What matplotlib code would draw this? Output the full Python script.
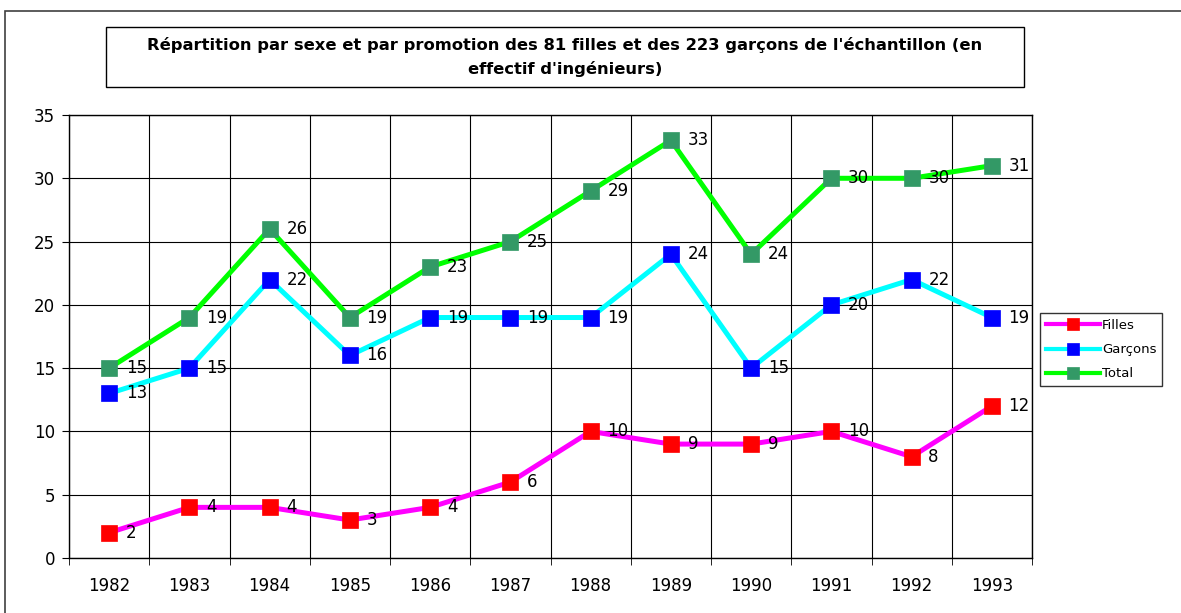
import numpy as np
import matplotlib.pyplot as plt
from matplotlib.patches import Rectangle

plt.rcParams['font.family'] = ['DejaVu Sans']

annees = ['1982', '1983', '1984', '1985', '1986', '1987',
          '1988', '1989', '1990', '1991', '1992', '1993']
filles = [2, 4, 4, 3, 4, 6, 10, 9, 9, 10, 8, 12]
garcons = [13, 15, 22, 16, 19, 19, 19, 24, 15, 20, 22, 19]
total = [15, 19, 26, 19, 23, 25, 29, 33, 24, 30, 30, 31]

W, H = 1181, 613
fig = plt.figure(figsize=(W / 100, H / 100), dpi=100)

# cadre extérieur
fig.patches.append(Rectangle((5 / W, -0.05), 1.1, 1 - 11 / H + 0.05,
                             transform=fig.transFigure, fill=False,
                             edgecolor='#404040', lw=1.2))

# boite du titre
fig.patches.append(Rectangle((106 / W, 1 - 87 / H), (1024 - 106) / W, 60 / H,
                             transform=fig.transFigure, fill=False,
                             edgecolor='black', lw=1))
fig.text((106 + 1024) / 2 / W, 1 - 57 / H,
         "Répartition par sexe et par promotion des 81 filles et des 223 garçons de l'échantillon (en\neffectif d'ingénieurs)",
         ha='center', va='center', fontsize=11.8, fontweight='bold',
         linespacing=1.65)

ax = fig.add_axes([69 / W, 1 - 558 / H, (1032 - 69) / W, (558 - 115) / H])
x = np.arange(len(annees))

series = [
    ('Filles', filles, '#ff00ff', '#ff0000'),
    ('Garçons', garcons, '#00ffff', '#0000ff'),
    ('Total', total, '#00ff00', '#339966'),
]
for nom, vals, lc, mc in series:
    ax.plot(x, vals, color=lc, lw=3.6, marker='s', ms=11,
            markerfacecolor=mc, markeredgecolor=mc, markeredgewidth=0.5,
            label=nom, zorder=3)
    for xi, v in zip(x, vals):
        ax.annotate(str(v), (xi, v), xytext=(12, 0), textcoords='offset points',
                    ha='left', va='center', fontsize=12, zorder=4)

ax.set_xlim(-0.5, len(annees) - 0.5)
ax.set_ylim(0, 35)
ax.set_yticks(range(0, 36, 5))
ax.set_xticks(x)
ax.set_xticklabels(annees)
ax.set_xticks(np.arange(-0.5, len(annees), 1), minor=True)
ax.tick_params(axis='x', which='major', length=0, labelsize=12, pad=14)
ax.tick_params(axis='x', which='minor', length=5, direction='out', color='black')
ax.tick_params(axis='y', length=5, direction='out', labelsize=12, pad=5)
ax.grid(True, which='minor', axis='x', color='black', lw=0.8)
ax.grid(True, which='major', axis='y', color='black', lw=0.8)
for s in ax.spines.values():
    s.set_color('black')
    s.set_linewidth(1)

leg = ax.legend(loc='upper left', bbox_to_anchor=(1040 / W, 1 - 313 / H),
                bbox_transform=fig.transFigure, fontsize=9.5, frameon=True,
                fancybox=False, edgecolor='black', handlelength=4.1,
                handletextpad=0.15, borderpad=0.45, labelspacing=0.85,
                borderaxespad=0)
leg.get_frame().set_linewidth(1)
for h in leg.legend_handles:
    h.set_markersize(8.5)
    h.set_linewidth(3)

fig.savefig('out.png', dpi=100)
